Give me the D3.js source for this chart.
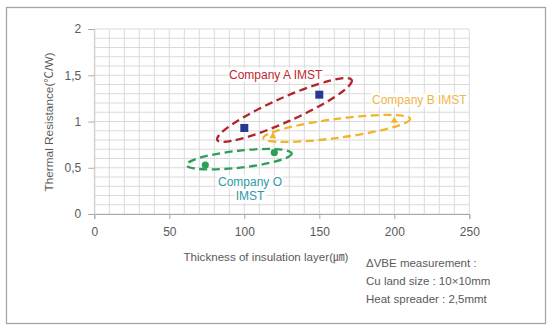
<!DOCTYPE html>
<html>
<head>
<meta charset="utf-8">
<script src="https://cdn.jsdelivr.net/npm/d3@7"></script>
<style>
  html, body { margin: 0; padding: 0; background: #fff; }
  text { font-family: "Liberation Sans", Arial, "Noto Sans CJK KR", sans-serif; }
</style>
</head>
<body>
<div id="chart"></div>
<script>
// data
const xTicks = [0, 50, 100, 150, 200, 250];
const yTicks = [0, 0.5, 1, 1.5, 2];
const yTickLabels = ["0", "0,5", "1", "1,5", "2"];

const aX = [100, 150];
const aY = [0.93, 1.29];
const bX = [119, 200];
const bY = [0.84, 1.01];
const oX = [74, 120];
const oY = [0.53, 0.665];

// ellipse major axis ends (data units)
const ellipseA = [[82, 0.80], [171.6, 1.45]];
const ellipseB = [[112.7, 0.82], [210.5, 1.03]];
const ellipseO = [[61.6, 0.53], [131.6, 0.655]];

const notes = ["\u0394VBE measurement :", "Cu land size : 10\u00d710mm", "Heat spreader : 2,5mmt"];

// svg
const W = 552, H = 330;
const svg = d3.select("#chart").append("svg").attr("width", W).attr("height", H);

svg.append("rect")
  .attr("x", 6.5).attr("y", 7.5).attr("width", 539).attr("height", 316)
  .attr("fill", "#fff").attr("stroke", "#a5a5a5").attr("stroke-width", 1.3);

const x = d3.scaleLinear().domain([0, 250]).range([94.3, 469.3]);
const y = d3.scaleLinear().domain([0, 2]).range([214, 29]);

// grid
const grid = svg.append("g");
grid.selectAll(".vg")
  .data(d3.range(0, 251, 10))
  .enter().append("line")
  .attr("x1", d => x(d)).attr("x2", d => x(d))
  .attr("y1", y(2)).attr("y2", y(0))
  .attr("stroke", "#dadada").attr("stroke-width", 1);
grid.selectAll(".hg")
  .data(d3.range(0, 21).map(d => d / 10))
  .enter().append("line")
  .attr("x1", x(0)).attr("x2", x(250))
  .attr("y1", d => y(d)).attr("y2", d => y(d))
  .attr("stroke", "#dadada").attr("stroke-width", 1);

// axes
const xAxis = svg.append("g")
  .attr("transform", `translate(0,${y(0)})`)
  .call(d3.axisBottom(x).tickValues(xTicks).tickSize(5).tickPadding(8));
xAxis.select(".domain").attr("stroke", "#aaa");
xAxis.selectAll(".tick line").attr("stroke", "#aaa");
xAxis.selectAll("text").attr("fill", "#5a5a5a").attr("font-size", 12).attr("font-family", null);

const yAxis = svg.append("g")
  .attr("transform", `translate(${x(0)},0)`)
  .call(d3.axisLeft(y).tickValues(yTicks).tickFormat((d, i) => yTickLabels[i]).tickSize(6).tickPadding(7));
yAxis.select(".domain").attr("stroke", "#ccc");
yAxis.selectAll(".tick line").attr("stroke", "#aaa");
yAxis.selectAll("text").attr("fill", "#5a5a5a").attr("font-size", 12).attr("font-family", null);

// titles
svg.append("text")
  .attr("transform", "translate(53,122) rotate(-90)")
  .attr("text-anchor", "middle")
  .attr("font-size", 11.8).attr("fill", "#5a5a5a")
  .text("Thermal Resistance(\u2103/W)");

svg.append("text")
  .attr("x", 266).attr("y", 261)
  .attr("text-anchor", "middle")
  .attr("font-size", 11.6).attr("fill", "#5a5a5a")
  .text("Thickness of insulation layer(\u339b)");

svg.selectAll(".note")
  .data(notes)
  .enter().append("text")
  .attr("x", 366).attr("y", (d, i) => 267 + i * 18)
  .attr("font-size", 11.5).attr("fill", "#5a5a5a")
  .text(d => d);

// ellipses
const drawEllipse = (ends, ry, color) => {
  const p1 = [x(ends[0][0]), y(ends[0][1])];
  const p2 = [x(ends[1][0]), y(ends[1][1])];
  const cx = (p1[0] + p2[0]) / 2, cy = (p1[1] + p2[1]) / 2;
  const rx = Math.hypot(p2[0] - p1[0], p2[1] - p1[1]) / 2;
  const ang = Math.atan2(p2[1] - p1[1], p2[0] - p1[0]) * 180 / Math.PI;
  svg.append("ellipse")
    .attr("transform", `translate(${cx},${cy}) rotate(${ang})`)
    .attr("rx", rx).attr("ry", ry)
    .attr("fill", "none")
    .attr("stroke", color).attr("stroke-width", 2.3)
    .attr("stroke-dasharray", "8,4.5");
};
drawEllipse(ellipseA, 12, "#b3232b");
drawEllipse(ellipseB, 9.5, "#f2b52a");
drawEllipse(ellipseO, 8.5, "#2f9e55");

// labels with white boxes
const label = (txt, tx, ty, color, anchor) => {
  const t = svg.append("text")
    .attr("x", tx).attr("y", ty)
    .attr("text-anchor", anchor || "start")
    .attr("font-size", 12).attr("fill", color)
    .text(txt);
  const bb = t.node().getBBox();
  svg.insert("rect", () => t.node())
    .attr("x", bb.x - 1).attr("y", bb.y)
    .attr("width", bb.width + 2).attr("height", bb.height)
    .attr("fill", "#fff").attr("fill-opacity", 0.85);
};
label("Company A IMST", 229, 79, "#c0282f");
label("Company B IMST", 372, 104, "#f0b54a");
label("Company O", 218, 186, "#2f9aa8");
label("IMST", 250, 200, "#2f9aa8", "middle");

// points
svg.selectAll(".ptA")
  .data(aX)
  .enter().append("rect")
  .attr("x", (d) => x(d) - 4).attr("y", (d, i) => y(aY[i]) - 4)
  .attr("width", 8).attr("height", 8)
  .attr("fill", "#283892");

svg.selectAll(".ptB")
  .data(bX)
  .enter().append("path")
  .attr("transform", (d, i) => `translate(${x(d)},${y(bY[i])})`)
  .attr("d", d3.symbol(d3.symbolTriangle, 22))
  .attr("fill", "#f2b52a");

svg.selectAll(".ptO")
  .data(oX)
  .enter().append("circle")
  .attr("cx", d => x(d)).attr("cy", (d, i) => y(oY[i]))
  .attr("r", 3.6)
  .attr("fill", "#2aa157");
</script>
</body>
</html>
